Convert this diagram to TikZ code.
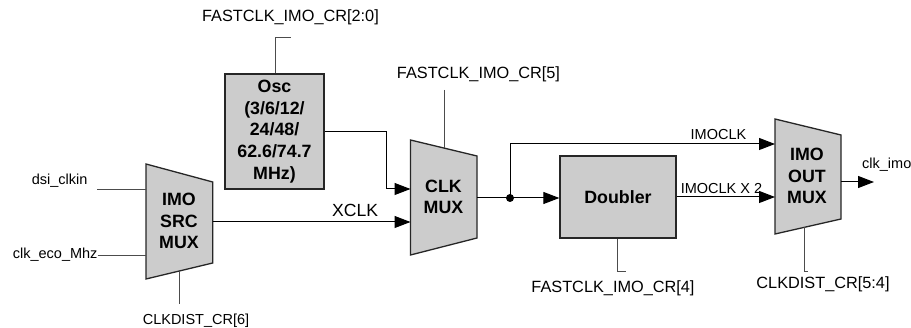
\documentclass[tikz,border=0pt]{standalone}
\usepackage{fontspec}
\setmainfont{Liberation Sans}
\usetikzlibrary{arrows.meta}
\begin{document}
\begin{tikzpicture}[x=1pt,y=-1pt,
 sig/.style={draw=black,line width=1pt},
 arr/.style={sig,-{Triangle[length=16pt,width=12pt]}},
 ctl/.style={draw=black!70,line width=0.9pt},
 blk/.style={draw=black!85,line width=1.3pt,fill=gray!40},
 btxt/.style={font=\fontsize{17.8}{21.6}\selectfont\bfseries,align=center,inner sep=0pt},
 lbl/.style={font=\fontsize{14.5}{17}\selectfont,inner sep=0pt},
 reg/.style={font=\fontsize{16.3}{19}\selectfont,inner sep=0pt},
 bigl/.style={font=\fontsize{17.6}{20}\selectfont,inner sep=0pt},
]
\useasboundingbox (0,0) rectangle (911,328);

% mux shapes
\filldraw[blk] (146,164) -- (212.7,182) -- (212.7,263) -- (146,279) -- cycle;
\filldraw[blk] (410.5,140) -- (477,156) -- (477,238) -- (410.5,255) -- cycle;
\filldraw[blk] (775,119) -- (841,135) -- (841,219) -- (775,234) -- cycle;

\node[btxt] (srcmux) at (179,221) {IMO\\SRC\\MUX};
\node[btxt] (clkmux) at (443.5,197) {CLK\\MUX};
\node[btxt] (outmux) at (807,176) {IMO\\OUT\\MUX};

% boxes
\node[blk,btxt,minimum width=99pt,minimum height=115pt] (osc) at (274.5,131.5)
  {Osc\\(3/6/12/\\24/48/\\62.6/74.7\\MHz)};
\node[blk,btxt,minimum width=116pt,minimum height=82pt] (dbl) at (618,197) {Doubler};

% ports
\coordinate (src-in1) at (146,189);
\coordinate (src-in2) at (146,255);
\coordinate (src-out) at (212.7,222);
\coordinate (src-sel) at (179.5,271);
\coordinate (clk-in1) at (410.5,189);
\coordinate (clk-in2) at (410.5,222);
\coordinate (clk-out) at (477,198);
\coordinate (clk-sel) at (444,148);
\coordinate (out-in1) at (775,144);
\coordinate (out-in2) at (775,197);
\coordinate (out-out) at (841,182);
\coordinate (out-sel) at (804,227.4);

% free ends
\coordinate (dsiend) at (97,189);
\coordinate (ecoend) at (97.7,255);
\coordinate (sel6end) at (179.5,304);
\coordinate (osccr) at (291,37);
\coordinate (sel5end) at (444,90);
\coordinate (dblcr) at (626,271);
\coordinate (sel54) at (808,271);
\coordinate (imoend) at (874,182);
\coordinate (jn) at (510,198);

% labels
\node[lbl,anchor=base west] (dsi) at (31.7,185) {dsi\_clkin};
\node[lbl,anchor=base east] (eco) at (97.7,259) {clk\_eco\_Mhz};
\node[lbl,anchor=base] (cr6) at (196,325) {CLKDIST\_CR[6]};
\node[bigl,anchor=base west] (xclk) at (332,217) {XCLK};
\node[reg,anchor=base] (cr20) at (290.5,22) {FASTCLK\_IMO\_CR[2:0]};
\node[reg,anchor=base] (cr5) at (478.5,79) {FASTCLK\_IMO\_CR[5]};
\node[lbl,anchor=base] (imoclk) at (718.5,140) {IMOCLK};
\node[lbl,anchor=base] (imox2) at (721.5,194) {IMOCLK X 2};
\node[lbl,anchor=base west] (clkimo) at (862,169) {clk\_imo};
\node[reg,anchor=base] (cr4) at (613,293) {FASTCLK\_IMO\_CR[4]};
\node[reg,anchor=base] (cr54) at (823,289) {CLKDIST\_CR[5:4]};

% connectors
\draw[ctl] (dsiend) -- (src-in1);
\draw[ctl] (ecoend) -- (src-in2);
\draw[ctl] (src-sel) -- (sel6end);
\draw[arr] (src-out) -- (clk-in2);
\draw[arr] (osc.east |- 0,132) -- (386,132) -- (386,189) -- (clk-in1);
\draw[ctl] (osc.north -| 275,0) -- (275,37) -- (osccr);
\draw[ctl] (sel5end) -- (clk-sel);
\draw[sig] (clk-out) -- (jn);
\draw[arr] (jn) -- (dbl.west |- jn);
\draw[arr] (jn) |- (out-in1);
\fill (jn) circle (4pt);
\draw[arr] (dbl.east |- out-in2) -- (out-in2);
\draw[ctl] (dbl.south -| 617,0) -- (617,271) -- (dblcr);
\draw[ctl] (out-sel) -- (804,271) -- (sel54);
\draw[arr] (out-out) -- (imoend);
\end{tikzpicture}
\end{document}
